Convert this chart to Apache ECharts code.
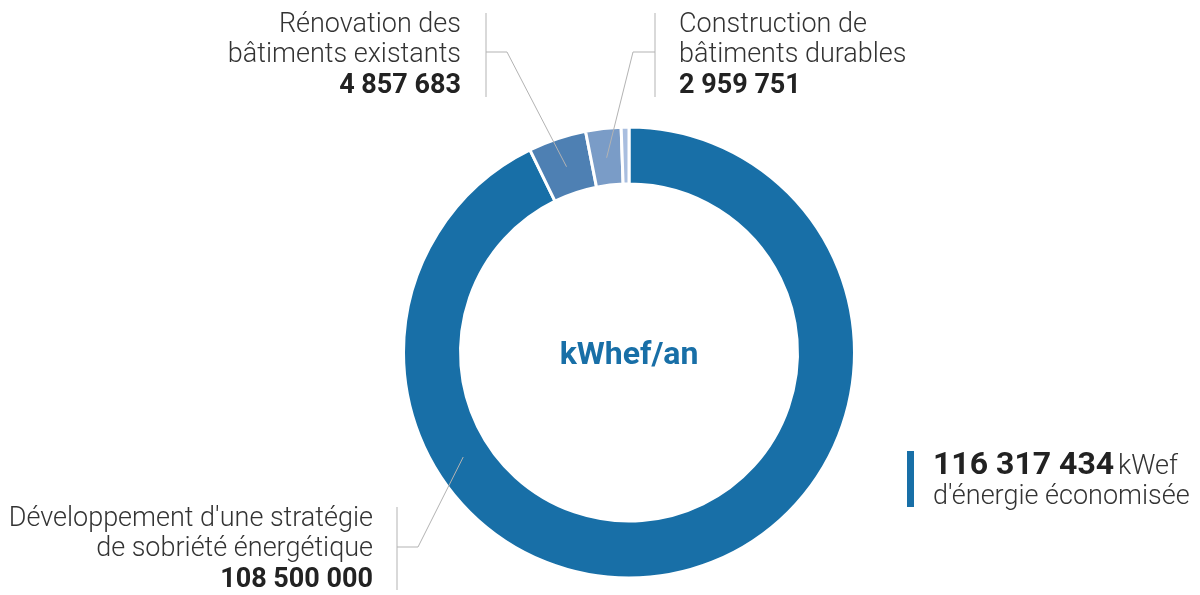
<!DOCTYPE html>
<html>
<head>
<meta charset="utf-8">
<script src="https://cdn.jsdelivr.net/npm/echarts@6/dist/echarts.min.js"></script>
<style>html,body{margin:0;padding:0;background:#fff}#c{width:1200px;height:595px}</style>
</head>
<body>
<div id="c"></div>
<script>
// ---- data ----
const categories = [
  "Développement d'une stratégie de sobriété énergétique",
  "Rénovation des bâtiments existants",
  "Construction de bâtiments durables",
  "Autre"
];
const values = [108500000, 4857683, 2959751, 650000];
const valueLabels = ["108 500 000", "4 857 683", "2 959 751", ""];
const totalLabel = "116 317 434";
const colors = ["#186fa7", "#4e80b3", "#7a9cc7", "#a9bedf"];

// ---- layout ----
const CX = 629, CY = 352.5, R_IN = 168.5, R_OUT = 225.5, R_ANCHOR = 196;
const FONT = "Roboto, 'Noto Sans', sans-serif";
const LINE = '#b3b3b3';

const chart = echarts.init(document.getElementById('c'), null, {renderer: 'canvas'});

// angles (clockwise from 12 o'clock) computed from data
const total = values.reduce((a, b) => a + b, 0);
const starts = [];
let acc = 0;
values.forEach(v => { starts.push(acc / total * 360); acc += v; });
function midAngle(i) { return starts[i] + values[i] / total * 180; }
function anchorAt(angDeg) {
  const a = angDeg * Math.PI / 180;
  return [CX + R_ANCHOR * Math.sin(a), CY - R_ANCHOR * Math.cos(a)];
}

const labelDefs = [
  {i: 1, ang: midAngle(1), elbow: [507, 52], barX: 486, barY: [13, 97], tx: 461, align: 'right', base: 33,
   lines: ["Rénovation des", "bâtiments existants"]},
  {i: 2, ang: midAngle(2), elbow: [633, 52], barX: 655, barY: [13, 97], tx: 679, align: 'left', base: 33,
   lines: ["Construction de", "bâtiments durables"]},
  {i: 0, ang: starts[0] + values[0] / total * 360 * 0.712, elbow: [418, 547], barX: 397, barY: [507, 590], tx: 373, align: 'right', base: 527,
   lines: ["Développement d'une stratégie", "de sobriété énergétique"]}
];

const graphics = [];
labelDefs.forEach(d => {
  const p0 = anchorAt(d.ang);
  graphics.push({type: 'polyline', silent: true, z: 10,
    shape: {points: [p0, d.elbow, [d.barX, d.elbow[1]]]},
    style: {stroke: LINE, lineWidth: 1, fill: null}});
  graphics.push({type: 'line', silent: true, z: 10,
    shape: {x1: d.barX, y1: d.barY[0], x2: d.barX, y2: d.barY[1]},
    style: {stroke: LINE, lineWidth: 1}});
  d.lines.forEach((t, k) => {
    graphics.push({type: 'text', silent: true, z: 10, x: d.tx, y: d.base + k * 30.5 - 7.8,
      style: {text: t, font: '300 27px ' + FONT, fill: '#333', align: d.align, verticalAlign: 'middle'}});
  });
  graphics.push({type: 'text', silent: true, z: 10, x: d.tx, y: d.base + 61 - 7.8,
    style: {text: valueLabels[d.i], font: 'bold 27px ' + FONT, fill: '#222', align: d.align, verticalAlign: 'middle'}});
});

// center title
graphics.push({type: 'text', silent: true, z: 10, x: CX, y: 356,
  style: {text: 'kWhef/an', font: 'bold 32px ' + FONT, fill: '#186fa7', align: 'center', verticalAlign: 'middle'}});

// total annotation
graphics.push({type: 'rect', silent: true, z: 10, shape: {x: 907, y: 451, width: 7, height: 56},
  style: {fill: '#186fa7'}});
graphics.push({type: 'text', silent: true, z: 10, x: 933, y: 466,
  style: {text: totalLabel, font: 'bold 32px ' + FONT, fill: '#222', align: 'left', verticalAlign: 'middle'}});
graphics.push({type: 'text', silent: true, z: 10, x: 1118, y: 467,
  style: {text: 'kWef', font: '300 27px ' + FONT, fill: '#333', align: 'left', verticalAlign: 'middle'}});
graphics.push({type: 'text', silent: true, z: 10, x: 933, y: 497.5,
  style: {text: "d'énergie économisée", font: '300 27px ' + FONT, fill: '#333', align: 'left', verticalAlign: 'middle'}});

chart.setOption({
  animation: false,
  backgroundColor: '#ffffff',
  series: [{
    type: 'pie',
    center: [CX, CY],
    radius: [R_IN, R_OUT],
    startAngle: 90,
    clockwise: true,
    silent: true,
    label: {show: false},
    labelLine: {show: false},
    itemStyle: {borderColor: '#ffffff', borderWidth: 3},
    data: categories.map((c, i) => ({name: c, value: values[i], itemStyle: {color: colors[i]}}))
  }],
  graphic: graphics
});
</script>
</body>
</html>
